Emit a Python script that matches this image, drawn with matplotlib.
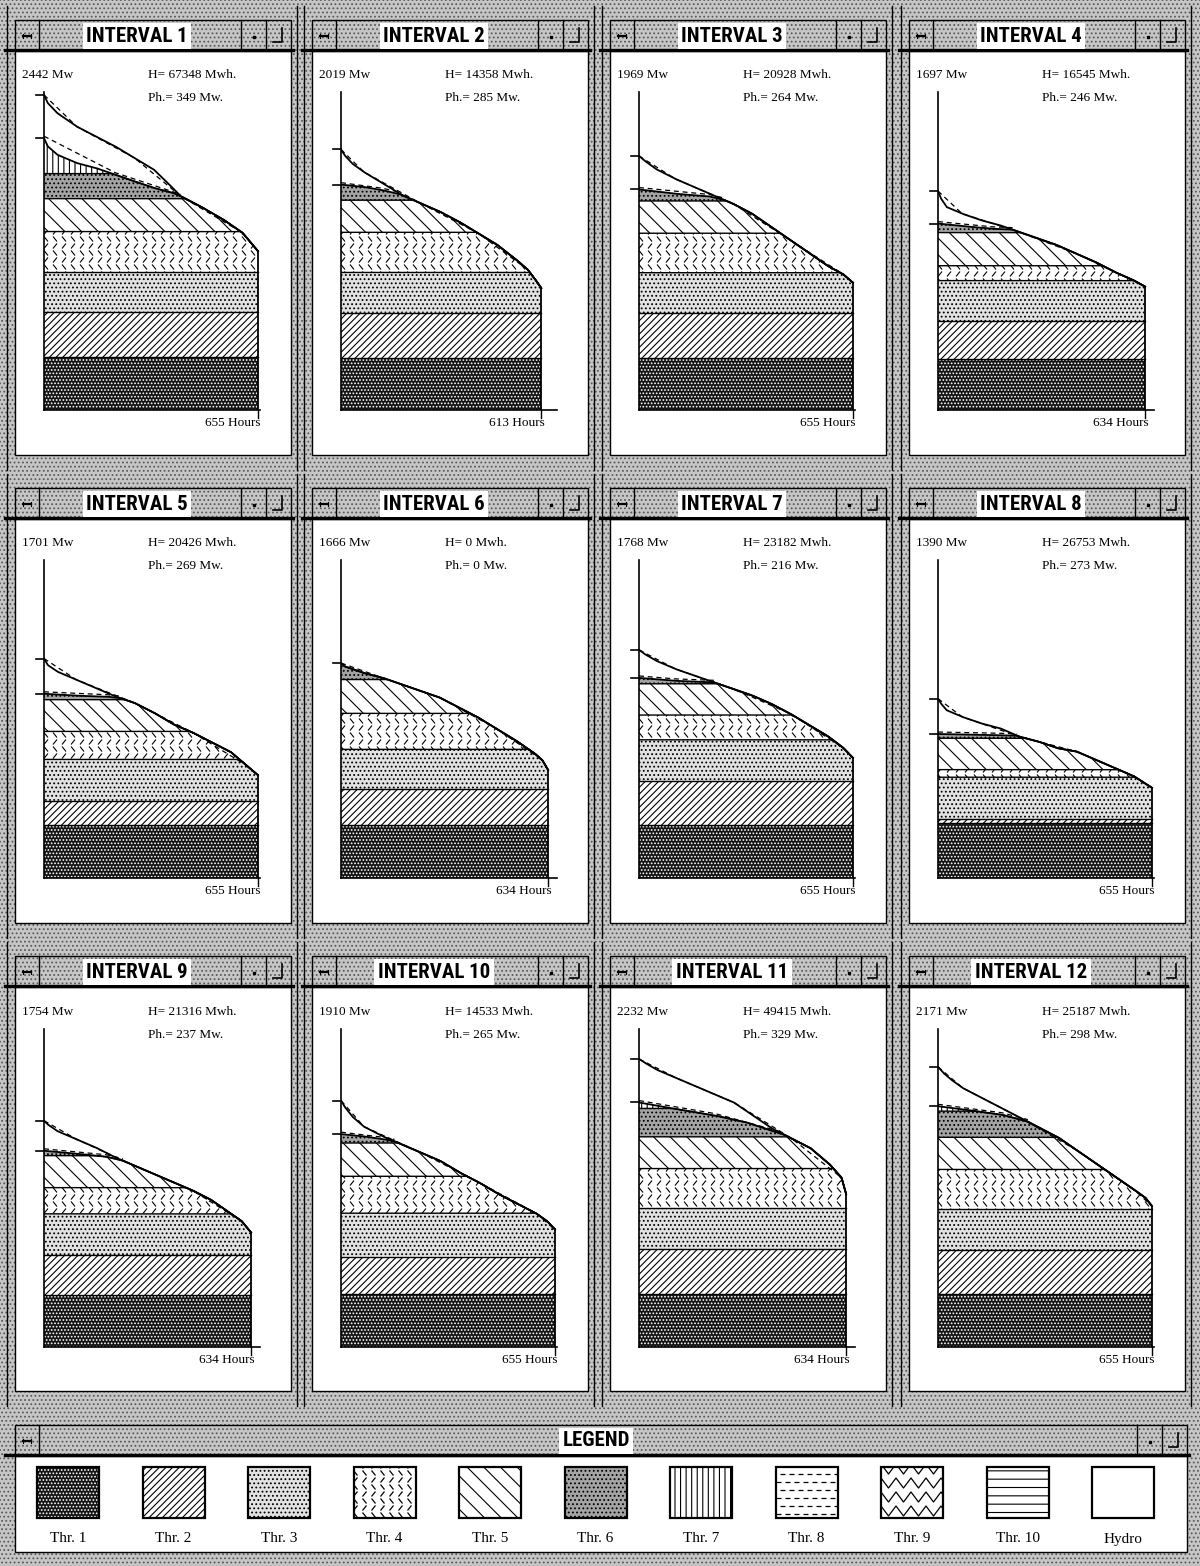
#!/usr/bin/env python3
from __future__ import annotations

import numpy as np
import matplotlib

matplotlib.use("Agg")
import matplotlib.pyplot as plt
from matplotlib import font_manager
from matplotlib.collections import LineCollection
from matplotlib.font_manager import FontProperties
from matplotlib.patches import Rectangle

# ---------------------------------------------------------------- data
INTERVAL_NAMES = [f"INTERVAL {k}" for k in range(1, 13)]
PEAK_MW = [2442, 2019, 1969, 1697, 1701, 1666, 1768, 1390, 1754, 1910, 2232, 2171]
HYDRO_MWH = [67348, 14358, 20928, 16545, 20426, 0, 23182, 26753, 21316, 14533, 49415, 25187]
HYDRO_PEAK_MW = [349, 285, 264, 246, 269, 0, 216, 273, 237, 265, 329, 298]
HOURS = [655, 613, 655, 634, 655, 634, 655, 655, 634, 655, 634, 655]

# load duration curve: fraction of the interval hours -> MW
LOAD_FRAC = [
    [0, .018, .063, .153, .243, .333, .423, .514, .586, .640, .730, .838, .928, 1.0],
    [0, .019, .057, .114, .210, .305, .400, .495, .590, .686, .781, .876, .933, .971, 1.0],
    [0, .027, .080, .170, .259, .348, .438, .527, .616, .705, .795, .884, .955, 1.0],
    [0, .015, .042, .116, .207, .299, .391, .483, .574, .666, .758, .850, .941, 1.0],
    [0, .018, .063, .153, .243, .333, .423, .514, .604, .694, .784, .874, .946, 1.0],
    [0, .018, .110, .202, .294, .385, .477, .569, .661, .752, .844, .936, .972, 1.0],
    [0, .027, .080, .170, .259, .348, .438, .527, .616, .705, .795, .884, .955, 1.0],
    [0, .014, .041, .113, .202, .291, .380, .470, .559, .648, .738, .827, .916, 1.0],
    [0, .019, .065, .157, .250, .343, .435, .528, .620, .713, .806, .898, .954, 1.0],
    [0, .018, .054, .107, .196, .286, .375, .464, .554, .643, .732, .821, .911, .964, 1.0],
    [0, .032, .087, .180, .273, .365, .458, .551, .644, .737, .829, .922, .978, 1.0],
    [0, .028, .064, .117, .206, .295, .384, .472, .561, .650, .739, .828, .917, .970, 1.0],
]
LOAD_MW = [
    [2442, 2378, 2300, 2197, 2120, 2043, 1953, 1862, 1747, 1656, 1579, 1476, 1373, 1231],
    [2019, 1973, 1909, 1845, 1755, 1665, 1600, 1536, 1459, 1369, 1279, 1164, 1087, 1010, 945],
    [1969, 1931, 1867, 1791, 1727, 1663, 1600, 1523, 1421, 1319, 1217, 1115, 1051, 987],
    [1697, 1638, 1573, 1522, 1471, 1432, 1380, 1329, 1278, 1213, 1149, 1072, 1008, 956],
    [1701, 1650, 1599, 1535, 1471, 1408, 1357, 1281, 1192, 1128, 1051, 975, 873, 797],
    [1666, 1640, 1589, 1551, 1500, 1449, 1398, 1321, 1245, 1156, 1066, 964, 913, 837],
    [1768, 1735, 1684, 1620, 1569, 1518, 1467, 1416, 1352, 1275, 1186, 1097, 1008, 931],
    [1390, 1352, 1300, 1249, 1198, 1160, 1096, 1057, 1006, 980, 916, 852, 788, 699],
    [1754, 1724, 1673, 1610, 1546, 1470, 1407, 1344, 1280, 1217, 1141, 1039, 976, 887],
    [1910, 1860, 1784, 1708, 1632, 1569, 1505, 1442, 1353, 1277, 1189, 1113, 1037, 974, 911],
    [2232, 2199, 2148, 2085, 2021, 1958, 1895, 1793, 1692, 1616, 1540, 1413, 1312, 1185],
    [2171, 2120, 2069, 2006, 1930, 1854, 1777, 1701, 1625, 1523, 1422, 1320, 1219, 1155, 1092],
]

# load left for thermal units after hydro peak shaving (joins the load curve at the end)
NET_FRAC = [
    [0, .018, .063, .153, .243, .333, .423, .514, .604, .640],
    [0, .114, .21, .30],
    [0, .17, .33, .40],
    [0, .12, .26, .36],
    [0, .15, .30, .36],
    [0.0],
    [0, .17, .35],
    [0, .2, .37],
    [0, .16, .30, .38],
    [0, .11, .20, .25],
    [0, .09, .18, .37, .52, .70],
    [0, .12, .30, .42],
]
NET_MW = [
    [2107, 2043, 1978, 1914, 1875, 1824, 1772, 1721, 1682, 1656],
    [1747, 1729, 1703, 1670],
    [1709, 1676, 1655, 1627],
    [1445, 1425, 1405, 1398],
    [1428, 1413, 1405, 1393],
    [1666],
    [1551, 1528, 1517],
    [1116, 1110, 1103],
    [1521, 1498, 1475, 1445],
    [1650, 1632, 1610, 1594],
    [1895, 1869, 1844, 1793, 1740, 1646],
    [1866, 1841, 1800, 1747],
]

# cumulative capacity tops (MW) of Thr.1, Thr.2, ...; the last unit fills up to the curve
BAND_TOPS = [
    [412, 760, 1069, 1383, 1638, 1832],
    [403, 753, 1066, 1377, 1626],
    [400, 750, 1064, 1370, 1620],
    [398, 686, 1003, 1118, 1375],
    [407, 598, 919, 1136, 1382],
    [411, 689, 997, 1276, 1538],
    [408, 753, 1071, 1263, 1505],
    [430, 456, 781, 840, 1083],
    [406, 710, 1032, 1235, 1483],
    [412, 701, 1037, 1323, 1581],
    [413, 760, 1077, 1383, 1629, 1849],
    [411, 754, 1071, 1376, 1625, 1828],
]

LEGEND_LABELS = ["Thr. 1", "Thr. 2", "Thr. 3", "Thr. 4", "Thr. 5", "Thr. 6",
                 "Thr. 7", "Thr. 8", "Thr. 9", "Thr. 10", "Hydro"]

# ---------------------------------------------------------------- style
# (facecolor, hatch, hatch colour, drawn texture)
FILL_STYLES = [
    ("#141414", ".....", "white", None),
    ("white", "/////", "black", None),
    ("#e2e2e2", "....", "black", None),
    ("white", "", "black", "herring"),
    ("white", "\\\\", "black", None),
    ("#a4a4a4", "....", "black", None),
    ("white", "|||", "black", None),
    ("white", "", "black", "dashes"),
    ("white", "", "black", "zigzag"),
    ("white", "--", "black", None),
    ("white", "", "black", None),
]

FIG_W, FIG_H = 1200, 1566
AXIS_X = [44, 341, 639, 938]        # pixel x of each column's y axis
BASE_Y = [410, 878, 1347]           # pixel y of each row's x axis
TITLE_Y = [20, 488, 956]
WIN_W, TITLE_H, CONTENT_H = 276, 30, 404
PX_PER_HOUR = 0.3267
MW_PER_PX = 7.75
AX_W_PX, AX_H_PX = 216, 318
DITHER_FACE = "#c6c6c6"
DITHER_DOTS = "#5a5a5a"


def pick_family(candidates: list[str]) -> str:
    names = {f.name for f in font_manager.fontManager.ttflist}
    for name in candidates:
        if name in names:
            return name
    return "DejaVu Sans"


def pick_condensed_bold() -> FontProperties | None:
    preferred = ["LiberationSansNarrow-Bold", "RobotoCondensed-Bold", "NotoSans-CondensedBold",
                 "DejaVuSansCondensed-Bold", "OpenSans_Condensed-Bold", "OpenSans-CondBold"]
    files = [f.fname for f in font_manager.fontManager.ttflist]
    for key in preferred:
        for path in files:
            if key.lower() in path.lower().replace(" ", ""):
                return FontProperties(fname=path)
    for path in files:
        low = path.lower()
        if ("condensed" in low or "narrow" in low) and "bold" in low and "serif" not in low \
                and "mono" not in low and "italic" not in low and "extra" not in low:
            return FontProperties(fname=path)
    return None


def texture_segments(kind: str, w: float, h: float) -> list:
    """Line texture in pixel units (x right, y up) covering a w x h box."""
    segs = []
    if kind == "herring":
        row_h, col_w = 7.0, 9.0
        for r, y in enumerate(np.arange(0, h + row_h, row_h)):
            for x in np.arange(-col_w, w + col_w, col_w):
                if r % 2 == 0:
                    segs.append([(x, y + 5.5), (x + 4.0, y + 0.5)])
                else:
                    segs.append([(x, y + 0.5), (x + 4.0, y + 5.5)])
    elif kind == "zigzag":
        half, amp, gap = 7.5, 10.0, 14.0
        xs = np.arange(-2 * half, w + 2 * half, half)
        for y in np.arange(2, h + gap, gap):
            segs.append([(x, y + (amp if j % 2 == 0 else 0.0)) for j, x in enumerate(xs)])
    elif kind == "dashes":
        for r, y in enumerate(np.arange(4, h, 8.0)):
            off = 0.0 if r % 2 == 0 else 4.5
            for x in np.arange(-9 + off, w, 9.0):
                segs.append([(x, y), (x + 5.0, y)])
    return segs


def dither_rect(bg, x, y, w, h):
    bg.add_patch(Rectangle((x, y), w, h, facecolor=DITHER_FACE, edgecolor=DITHER_DOTS,
                           hatch="....", linewidth=0))


def draw_window(bg, x, y, w, content_h, title, title_font, title_size, title_cx=None):
    dither_rect(bg, x, y, w, TITLE_H)
    bg.add_patch(Rectangle((x, y), w, TITLE_H, fill=False, edgecolor="black", linewidth=1.0))
    bg.plot([x + 24, x + 24], [y, y + TITLE_H], color="black", lw=1.0)
    bg.plot([x + 8, x + 16], [y + 16, y + 16], color="black", lw=1.6)
    bg.plot([x + 8, x + 8], [y + 14, y + 18], color="black", lw=0.8)
    bg.plot([x + 16, x + 16], [y + 14, y + 18], color="black", lw=0.8)
    for bx in (x + w - 50, x + w - 25):
        bg.plot([bx, bx], [y, y + TITLE_H], color="black", lw=1.0)
    bg.plot([x + w - 37], [y + 17], marker="s", ms=1.5, color="black")
    bg.plot([x + w - 18, x + w - 9, x + w - 9], [y + 22, y + 22, y + 8], color="black", lw=1.2)
    cx = x + w / 2 - 16 if title_cx is None else title_cx
    bg.text(cx, y + TITLE_H / 2 + 1, title, ha="center", va="center", fontproperties=title_font,
            fontsize=title_size, color="black",
            bbox=dict(facecolor="white", edgecolor="none", pad=2.5))
    bg.plot([x - 10, x + w + 2], [y + TITLE_H, y + TITLE_H], color="black", lw=2.4)
    bg.add_patch(Rectangle((x, y + TITLE_H + 1), w, content_h, facecolor="white",
                           edgecolor="black", linewidth=1.0))


def draw_panel(fig, bg, i, serif):
    row, col = divmod(i, 4)
    ox, oy = AXIS_X[col], BASE_Y[row]
    ax = fig.add_axes([ox / FIG_W, 1 - oy / FIG_H, AX_W_PX / FIG_W, AX_H_PX / FIG_H])
    ax.set_xlim(0, AX_W_PX / PX_PER_HOUR)
    ax.set_ylim(0, AX_H_PX * MW_PER_PX)
    ax.axis("off")

    n_hours = HOURS[i]
    grid = np.linspace(0.0, 1.0, 400)
    hrs = grid * n_hours
    load = np.interp(grid, LOAD_FRAC[i], LOAD_MW[i])
    net_raw = np.interp(grid, NET_FRAC[i], NET_MW[i])
    net = np.where(grid <= NET_FRAC[i][-1], np.minimum(net_raw, load), load)

    lower = 0.0
    for k, top in enumerate(BAND_TOPS[i] + [np.inf]):
        face, hatch, hcol, texture = FILL_STYLES[k]
        band = ax.fill_between(hrs, np.minimum(lower, net), np.minimum(top, net),
                               facecolor=face, edgecolor=hcol, hatch=hatch, linewidth=0)
        if texture:
            segs = [[(px / PX_PER_HOUR, py * MW_PER_PX) for px, py in s]
                    for s in texture_segments(texture, AX_W_PX, AX_H_PX)]
            lc = LineCollection(segs, colors="black", linewidths=0.8)
            ax.add_collection(lc)
            lc.set_clip_path(band.get_paths()[0], ax.transData)
        lower = top
    for top in BAND_TOPS[i]:
        ax.plot(hrs, np.minimum(top, net), color="black", lw=1.0)
    ax.plot(hrs, net, color="black", lw=1.3)
    ax.plot(hrs, load, color="black", lw=1.3)
    ax.plot([n_hours, n_hours], [0, load[-1]], color="black", lw=1.3)

    # dashed linearised curves
    step = list(range(0, len(LOAD_FRAC[i]), 3))
    if step[-1] != len(LOAD_FRAC[i]) - 1:
        step.append(len(LOAD_FRAC[i]) - 1)
    ax.plot(np.array(LOAD_FRAC[i])[step] * n_hours, np.array(LOAD_MW[i])[step],
            color="black", lw=0.9, ls=(0, (4, 3)))
    if HYDRO_MWH[i] > 0:
        nf = np.array(NET_FRAC[i])
        nm = np.array(NET_MW[i])
        pick = [0, len(nf) // 2, len(nf) - 1]
        ax.plot(nf[pick] * n_hours, nm[pick] + 15, color="black", lw=0.9, ls=(0, (4, 3)))

    # axes
    x_end = AX_W_PX / PX_PER_HOUR
    ax.plot([0, 0], [0, AX_H_PX * MW_PER_PX], color="black", lw=1.2, clip_on=False)
    ax.plot([0, x_end], [0, 0], color="black", lw=1.2, clip_on=False)
    ax.plot([n_hours, n_hours], [0, -60], color="black", lw=1.0, clip_on=False)
    tick_left = 8 / PX_PER_HOUR
    ax.plot([-tick_left, 0], [PEAK_MW[i], PEAK_MW[i]], color="black", lw=1.2, clip_on=False)
    if HYDRO_MWH[i] > 0:
        ax.plot([-tick_left, 0], [NET_MW[i][0], NET_MW[i][0]], color="black", lw=1.2,
                clip_on=False)

    # labels (pixel coordinates on the background axes)
    kw = dict(fontsize=9.5, family=serif, va="center")
    bg.text(ox - 22, oy - 335, f"{PEAK_MW[i]} Mw", ha="left", **kw)
    bg.text(ox + 104, oy - 335, f"H= {HYDRO_MWH[i]} Mwh.", ha="left", **kw)
    bg.text(ox + 104, oy - 312, f"Ph.= {HYDRO_PEAK_MW[i]} Mw.", ha="left", **kw)
    bg.text(ox + n_hours * PX_PER_HOUR + 3, oy + 13, f"{n_hours} Hours", ha="right", **kw)


def main() -> int:
    plt.rcParams["hatch.linewidth"] = 0.8
    serif = pick_family(["Liberation Serif", "DejaVu Serif"])
    title_font = pick_condensed_bold()
    title_size = 15
    if title_font is None:
        title_font = FontProperties(family="DejaVu Sans", weight="bold")
        title_size = 11.5

    fig = plt.figure(figsize=(FIG_W / 100, FIG_H / 100), dpi=100)
    bg = fig.add_axes([0, 0, 1, 1])
    bg.set_xlim(0, FIG_W)
    bg.set_ylim(FIG_H, 0)
    bg.axis("off")
    dither_rect(bg, 0, 0, FIG_W, FIG_H)

    for i in range(12):
        row, col = divmod(i, 4)
        wx = AXIS_X[col] - 29
        draw_window(bg, wx, TITLE_Y[row], WIN_W, CONTENT_H, INTERVAL_NAMES[i],
                    title_font, title_size)
        for lx in (wx - 8, wx + WIN_W + 6):
            bg.plot([lx, lx], [TITLE_Y[row] - 14, TITLE_Y[row] + 450], color="black", lw=1.0)

    for i in range(12):
        draw_panel(fig, bg, i, serif)

    # legend window
    draw_window(bg, 15, 1425, 1172, 96, "LEGEND", title_font, title_size, title_cx=596)
    for k, label in enumerate(LEGEND_LABELS):
        face, hatch, hcol, texture = FILL_STYLES[k]
        sx, sy, sw, sh = 37 + 105.5 * k, 1467, 62, 51
        box = Rectangle((sx, sy), sw, sh, facecolor=face, edgecolor=hcol,
                        hatch=hatch, linewidth=0)
        bg.add_patch(box)
        if texture:
            segs = [[(sx + px, sy + sh - py) for px, py in s]
                    for s in texture_segments(texture, sw, sh)]
            lc = LineCollection(segs, colors="black", linewidths=0.9)
            bg.add_collection(lc)
            lc.set_clip_path(box)
        bg.add_patch(Rectangle((sx, sy), sw, sh, fill=False, edgecolor="black", linewidth=1.6))
        bg.text(sx + sw / 2, 1539, label, ha="center", va="center", fontsize=11, family=serif)

    fig.savefig("out.png", dpi=100)
    plt.close(fig)
    return 0


if __name__ == "__main__":
    raise SystemExit(main())
